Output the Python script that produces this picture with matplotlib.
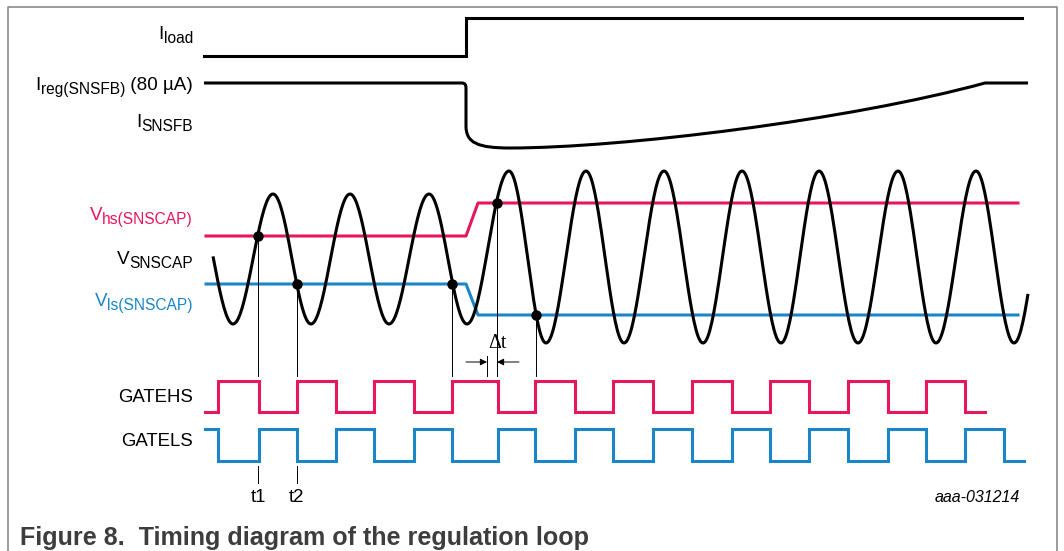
import numpy as np
import matplotlib
matplotlib.use('Agg')
import matplotlib.pyplot as plt
from matplotlib.path import Path
from matplotlib.patches import PathPatch

plt.rcParams['font.family'] = ['Liberation Sans', 'DejaVu Sans']

RED = '#E8175D'
BLUE = '#1A86C8'

# --- data (pixel-space schematic coordinates) ---
# I_load step
iload_x = [204, 466, 466, 1022]
iload_y = [56, 56, 18, 18]

# I_SNSFB path (bezier control points)
isnsfb_pts = [(204, 83), (462, 83), (466, 83), (466, 88), (466, 126),
              (466, 143), (478, 148), (510, 148),
              (620, 148), (850, 120), (985, 83), (1028, 83)]
isnsfb_codes = ['M', 'L', 'Q', 'Q', 'L', 'C', 'C', 'C', 'C', 'C', 'C', 'L']

# V_SNSCAP extrema (x, y); first/last are virtual points outside the drawn range
vsns_x = [194, 233, 273, 311, 350, 389, 429, 467, 509, 546, 586, 624, 664,
          703, 742, 781, 819, 858, 898, 936, 976, 1014, 1053]
vsns_y = [194, 324, 194, 324, 194, 324, 194, 324, 171, 343, 171, 343, 171,
          343, 171, 343, 171, 343, 171, 343, 171, 343, 171]
vsns_range = (213, 1028)

# thresholds
vhs_x = [206, 466, 478, 1018]
vhs_y = [236, 236, 203, 203]
vls_x = [206, 466, 478, 1018]
vls_y = [284, 284, 315, 315]

# crossing points
dots_x = [258, 296.5, 452, 497, 536]
dots_y = [236, 284, 284, 203, 315]

# gate edges
gatehs_edges = [218, 258.5, 296.5, 336, 374, 414, 452, 497.5, 535, 575, 613,
                653, 692, 732, 770, 809, 848, 888, 926, 965]
gatehs_span = (205, 985)
gatels_edges = [218, 258.5, 296.5, 336, 374, 414, 452, 497.5, 535, 575, 613,
                653, 692, 732, 770, 809, 848, 888, 926, 965, 1004]
gatels_span = (205, 1024)
HS_HI, HS_LO = 381, 412
LS_HI, LS_LO = 429, 461

# signal labels: (main, subscript, suffix, baseline y, colour)
labels = [
    ('I', 'load', '', 39, 'black'),
    ('I', 'reg(SNSFB)', ' (80 µA)', 90, 'black'),
    ('I', 'SNSFB', '', 127, 'black'),
    ('V', 'hs(SNSCAP)', '', 220, RED),
    ('V', 'SNSCAP', '', 264, 'black'),
    ('V', 'ls(SNSCAP)', '', 306, BLUE),
]


def step_wave(edges, span, start, hi, lo):
    xs, ys = [span[0]], []
    level = start
    ys.append(hi if level else lo)
    for e in edges:
        xs += [e, e]
        ys += [hi if level else lo]
        level = not level
        ys += [hi if level else lo]
    xs.append(span[1])
    ys.append(hi if level else lo)
    return xs, ys


def cos_wave(px, py, rng):
    xs, ys = [], []
    for i in range(len(px) - 1):
        t = np.linspace(0, 1, 40)
        xs.append(px[i] + (px[i + 1] - px[i]) * t)
        ys.append(py[i] + (py[i + 1] - py[i]) * (1 - np.cos(np.pi * t)) / 2)
    xs = np.concatenate(xs)
    ys = np.concatenate(ys)
    m = (xs >= rng[0]) & (xs <= rng[1])
    return xs[m], ys[m]


fig = plt.figure(figsize=(10.64, 5.51), dpi=100)
ax = fig.add_axes([0, 0, 1, 1])
ax.set_xlim(0, 1064)
ax.set_ylim(551, 0)
ax.axis('off')
renderer = fig.canvas.get_renderer()


def text_width(t):
    bb = t.get_window_extent(renderer=renderer)
    return bb.width  # pixels == data units here


def sub_label(xr, y, main, sub, suffix, color, fs=13.6, sfs=11.2, drop=4):
    x = xr
    if suffix:
        t = ax.text(x, y, suffix, fontsize=fs, ha='right', va='baseline', color=color)
        x -= text_width(t)
    t = ax.text(x, y + drop, sub, fontsize=sfs, ha='right', va='baseline', color=color)
    x -= text_width(t)
    ax.text(x, y, main, fontsize=fs, ha='right', va='baseline', color=color)


# frame
ax.plot([8, 8, 1057, 1057], [551, 7, 7, 551], color='#8a8a8a', lw=1.2)

LW = 2.2
ax.plot(iload_x, iload_y, color='black', lw=LW, solid_joinstyle='miter')

code_map = {'M': Path.MOVETO, 'L': Path.LINETO, 'Q': Path.CURVE3, 'C': Path.CURVE4}
path = Path(isnsfb_pts, [code_map[c] for c in isnsfb_codes])
ax.add_patch(PathPatch(path, fill=False, edgecolor='black', lw=LW))

ax.plot(vhs_x, vhs_y, color=RED, lw=LW)
ax.plot(vls_x, vls_y, color=BLUE, lw=LW)
wx, wy = cos_wave(vsns_x, vsns_y, vsns_range)
ax.plot(wx, wy, color='black', lw=LW, solid_capstyle='butt')

# thin marker lines
for x, y in zip(dots_x, dots_y):
    ax.plot([x, x], [y, 376], color='black', lw=0.7)
ax.plot([487, 487], [356, 376], color='black', lw=0.7)
for x in dots_x[:2]:
    ax.plot([x, x], [466, 483], color='black', lw=0.7)
ax.plot(dots_x, dots_y, 'o', color='black', ms=6.5, zorder=5)

# delta t
ax.annotate('', xy=(487, 362), xytext=(466, 362),
            arrowprops=dict(arrowstyle='-|>', color='black', lw=0.7,
                            mutation_scale=10, shrinkA=0, shrinkB=0))
ax.annotate('', xy=(497, 362), xytext=(519, 362),
            arrowprops=dict(arrowstyle='-|>', color='black', lw=0.7,
                            mutation_scale=10, shrinkA=0, shrinkB=0))
ax.text(497, 344, 'Δt', family='Liberation Serif', fontsize=14.5,
        ha='center', va='center')

# gates
hx, hy = step_wave(gatehs_edges, gatehs_span, False, HS_HI, HS_LO)
ax.plot(hx, hy, color=RED, lw=LW, solid_joinstyle='miter')
lx, ly = step_wave(gatels_edges, gatels_span, True, LS_HI, LS_LO)
ax.plot(lx, ly, color=BLUE, lw=LW, solid_joinstyle='miter')

# labels
XR = 193
for main, sub, suffix, y, col in labels:
    sub_label(XR, y, main, sub, suffix, col)
ax.text(XR, 397, 'GATEHS', fontsize=13.4, ha='right', va='center')
ax.text(XR, 442, 'GATELS', fontsize=13.4, ha='right', va='center')
ax.text(dots_x[0], 497, 't1', fontsize=13.4, ha='center', va='center')
ax.text(dots_x[1], 497, 't2', fontsize=13.4, ha='center', va='center')
ax.text(1020, 497, 'aaa-031214', fontsize=11.5, style='italic', ha='right', va='center')

ax.text(20, 538, 'Figure 8.  Timing diagram of the regulation loop', fontsize=18.1,
        fontweight='bold', color='#3d3d3d', ha='left', va='center')

fig.savefig('out.png', dpi=100)
